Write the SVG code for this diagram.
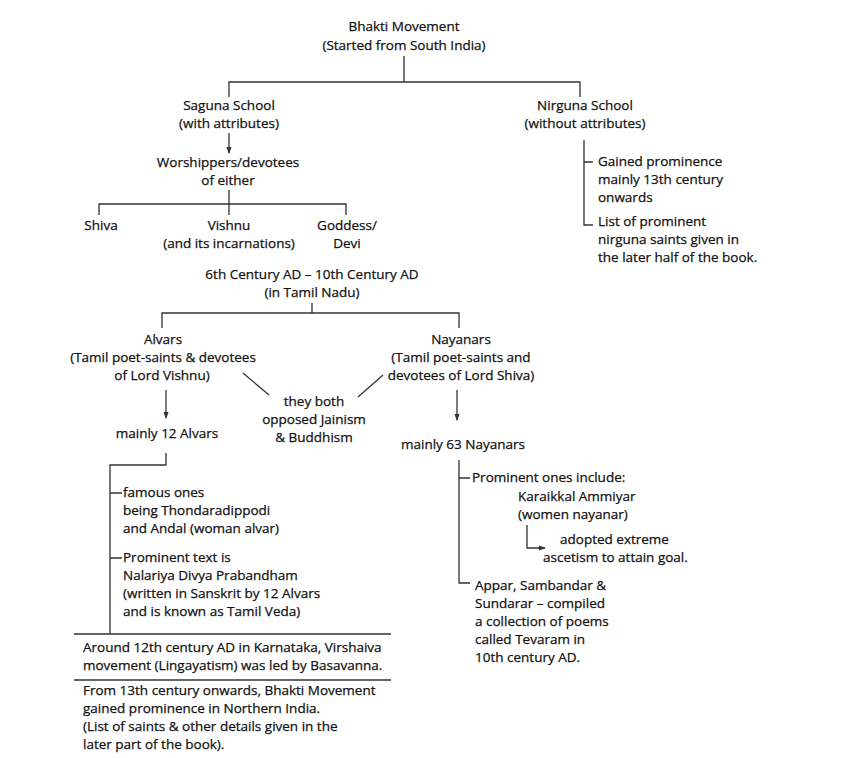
<svg xmlns="http://www.w3.org/2000/svg" width="844" height="758" viewBox="0 0 844 758">
<defs>
<style>
text{font-family:"Open Sans","Liberation Sans",Arial,sans-serif;font-size:13.5px;fill:#111;stroke:#111;stroke-width:0.25}
.c{text-anchor:middle}
.ln{stroke:#333;stroke-width:1.3;fill:none}
</style>
<marker id="ah" viewBox="0 0 8 8" refX="7" refY="4" markerWidth="7" markerHeight="7" orient="auto" markerUnits="userSpaceOnUse">
<path d="M0,1 L8,4 L0,7 Z" fill="#333"/>
</marker>
</defs>
<rect width="844" height="758" fill="#fff"/>
<g id="connectors" class="ln">
<path d="M404,56 V82 M229,97 V82 H580 V97"/>
<path d="M229,133 V153" marker-end="url(#ah)"/>
<path d="M229,190 V204 M99,215 V204 H346 V215 M229,204 V215"/>
<path d="M584,140 V225 H593 M584,162 H593"/>
<path d="M312,303 V313 M162,328 V313 H459 V328"/>
<path d="M243,373 L269,395 M383,375 L358,397"/>
<path d="M166,390 V418" marker-end="url(#ah)"/>
<path d="M457,390 V420" marker-end="url(#ah)"/>
<path d="M166,453 V465 H110 V634 M110,493 H122 M110,558 H122"/>
<path d="M74,634 H391 M74,680 H391"/>
<path d="M459,460 V583 H470 M459,478 H470"/>
<path d="M527,525 V548 H545" marker-end="url(#ah)"/>
</g>
<g id="bhakti"><text class="c" x="404" y="31">Bhakti Movement</text><text class="c" x="404" y="50">(Started from South India)</text></g>
<g id="saguna"><text class="c" x="229" y="110">Saguna School</text><text class="c" x="229" y="128">(with attributes)</text></g>
<g id="nirguna"><text class="c" x="585" y="110">Nirguna School</text><text class="c" x="585" y="128">(without attributes)</text></g>
<g id="nirguna-notes">
<text x="598" y="166">Gained prominence</text><text x="598" y="184">mainly 13th century</text><text x="598" y="202">onwards</text>
<text x="598" y="226">List of prominent</text><text x="598" y="244">nirguna saints given in</text><text x="598" y="262">the later half of the book.</text>
</g>
<g id="worshippers"><text class="c" x="228" y="167">Worshippers/devotees</text><text class="c" x="228" y="185">of either</text></g>
<g id="shiva"><text class="c" x="101" y="230">Shiva</text></g>
<g id="vishnu"><text class="c" x="229" y="230">Vishnu</text><text class="c" x="229" y="248">(and its incarnations)</text></g>
<g id="goddess"><text class="c" x="347" y="230">Goddess/</text><text class="c" x="347" y="248">Devi</text></g>
<g id="period"><text class="c" x="312" y="279">6th Century AD – 10th Century AD</text><text class="c" x="312" y="297">(in Tamil Nadu)</text></g>
<g id="alvars"><text class="c" x="163" y="344">Alvars</text><text class="c" x="163" y="362">(Tamil poet-saints &amp; devotees</text><text class="c" x="162" y="380">of Lord Vishnu)</text></g>
<g id="nayanars"><text class="c" x="461" y="344">Nayanars</text><text class="c" x="461" y="362">(Tamil poet-saints and</text><text class="c" x="461" y="380">devotees of Lord Shiva)</text></g>
<g id="both"><text class="c" x="314" y="406">they both</text><text class="c" x="314" y="424">opposed Jainism</text><text class="c" x="314" y="442">&amp; Buddhism</text></g>
<g id="alvars12"><text class="c" x="167" y="438">mainly 12 Alvars</text></g>
<g id="nayanars63"><text class="c" x="463" y="449">mainly 63 Nayanars</text></g>
<g id="alvar-notes">
<text x="123" y="497">famous ones</text><text x="123" y="515">being Thondaradippodi</text><text x="123" y="533">and Andal (woman alvar)</text>
<text x="123" y="562">Prominent text is</text><text x="123" y="580">Nalariya Divya Prabandham</text><text x="123" y="598">(written in Sanskrit by 12 Alvars</text><text x="123" y="616">and is known as Tamil Veda)</text>
</g>
<g id="virshaiva"><text x="83" y="652">Around 12th century AD in Karnataka, Virshaiva</text><text x="83" y="670">movement (Lingayatism) was led by Basavanna.</text></g>
<g id="north"><text x="83" y="695">From 13th century onwards, Bhakti Movement</text><text x="83" y="713">gained prominence in Northern India.</text><text x="83" y="731">(List of saints &amp; other details given in the</text><text x="83" y="749">later part of the book).</text></g>
<g id="nayanar-notes">
<text x="472" y="482">Prominent ones include:</text>
<text x="518" y="501">Karaikkal Ammiyar</text><text x="518" y="519">(women nayanar)</text>
<text x="560" y="544">adopted extreme</text><text x="543" y="562">ascetism to attain goal.</text>
<text x="475" y="590">Appar, Sambandar &amp;</text><text x="475" y="608">Sundarar – compiled</text><text x="475" y="626">a collection of poems</text><text x="475" y="644">called Tevaram in</text><text x="475" y="662">10th century AD.</text>
</g>
</svg>
